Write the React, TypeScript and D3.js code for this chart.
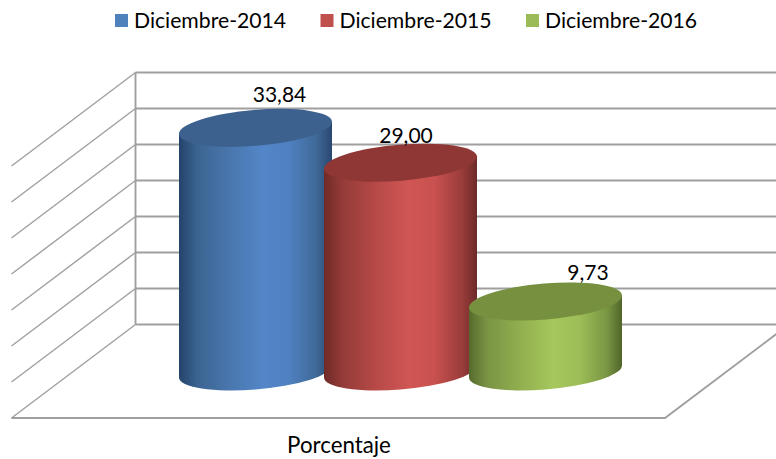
import React from "react";
import * as d3 from "d3";

const W = 776, H = 459;
const seriesNames = ["Diciembre-2014", "Diciembre-2015", "Diciembre-2016"];
const seriesValues = [33.84, 29.0, 9.73];
const valueLabels = ["33,84", "29,00", "9,73"];
const categoryLabel = "Porcentaje";
const gridTicks = [0, 5, 10, 15, 20, 25, 30, 35];

const FONT = "Lato, 'Noto Sans', sans-serif";
const GRID = "#9f9f9f";
const palettes = [
  { id: "b", lid: "#3c618f", swatch: "#4f81bd", stops: ["#24436b", "#3c6492", "#4a78b0", "#5386c8", "#4f81c0", "#3f6897", "#2a4770"] },
  { id: "r", lid: "#8f3735", swatch: "#c0504d", stops: ["#6f2a28", "#943b39", "#b84a48", "#cf5653", "#c9514f", "#9a3d3b", "#6c2a28"] },
  { id: "g", lid: "#76903f", swatch: "#9bbb59", stops: ["#566b2c", "#7a9444", "#93b150", "#a5c75c", "#9dbe57", "#7a9643", "#50652a"] },
];
const stopOffsets = [0, 0.12, 0.35, 0.55, 0.72, 0.9, 1];
const labelDx = [24, 5.5, 42.5];
const labelDy = [-26, -19.5, -21.5];

const x = d3.scalePoint<string>().domain(seriesNames).range([255.5, 545.5]);
const yBar = d3.scaleLinear().domain([0, 35]).range([371.5, 119.5]);
const yGrid = d3.scaleLinear().domain([0, 35]).range([324.5, 72.5]);
const xLegend = d3.scalePoint<string>().domain(seriesNames).range([115, 526]);

const RX = 76.75, RY = 18, ROT = -4.75, HALF = 76.5, TILT = 6;

const line = d3.line();

export default function App() {
  const wallX = 135.5, depthX = -124, depthY = 93.5;
  const frontY = yGrid(0) + depthY;
  return (
    <svg width={W} height={H} viewBox={`0 0 ${W} ${H}`} style={{ position: "absolute", left: 0, top: 0, background: "#fff" }}>
      <defs>
        {palettes.map((p) => (
          <linearGradient key={p.id} id={p.id} x1="0" x2="1" y1="0" y2="0">
            {p.stops.map((c, i) => (
              <stop key={i} offset={stopOffsets[i]} stopColor={c} />
            ))}
          </linearGradient>
        ))}
      </defs>

      {gridTicks.map((t) => (
        <g key={t} fill="none" stroke={GRID}>
          <path strokeWidth={1.9} d={line([[wallX, yGrid(t)], [W, yGrid(t)]]) as string} />
          <path strokeWidth={1.4} d={line([[wallX, yGrid(t)], [wallX + depthX, yGrid(t) + depthY]]) as string} />
        </g>
      ))}
      <path fill="none" stroke={GRID} strokeWidth={1.9} d={line([[wallX, yGrid(35)], [wallX, yGrid(0)]]) as string} />
      <path fill="none" stroke={GRID} strokeWidth={1.9} d={line([[wallX + depthX, frontY], [665, frontY], [789, yGrid(0)]]) as string} />

      {seriesNames.map((n, i) => {
        const cx = x(n) as number;
        const top = yBar(seriesValues[i]);
        const bot = yBar(0);
        const body =
          `M${cx - HALF},${top + TILT} L${cx - HALF},${bot + TILT} ` +
          `A${RX},${RY} ${ROT} 0 0 ${cx + HALF},${bot - TILT} ` +
          `L${cx + HALF},${top - TILT} Z`;
        return (
          <g key={n}>
            <path d={body} fill={`url(#${palettes[i].id})`} />
            <ellipse cx={0} cy={0} rx={RX} ry={RY} fill={palettes[i].lid}
              transform={`translate(${cx},${top}) rotate(${ROT})`} />
          </g>
        );
      })}

      {seriesNames.map((n, i) => (
        <text key={n} x={(x(n) as number) + labelDx[i]} y={yBar(seriesValues[i]) + labelDy[i]}
          textAnchor="middle" fontFamily={FONT} fontSize={21} fill="#000">
          {valueLabels[i]}
        </text>
      ))}

      {seriesNames.map((n, i) => {
        const lx = xLegend(n) as number;
        return (
          <g key={n}>
            <rect x={lx} y={14} width={13} height={13} fill={palettes[i].swatch} />
            <text x={lx + 19} y={28} fontFamily={FONT} fontSize={21.2} fill="#000">{n}</text>
          </g>
        );
      })}

      <text x={339} y={453} textAnchor="middle" fontFamily={FONT} fontSize={22.3} fill="#000">{categoryLabel}</text>
    </svg>
  );
}
